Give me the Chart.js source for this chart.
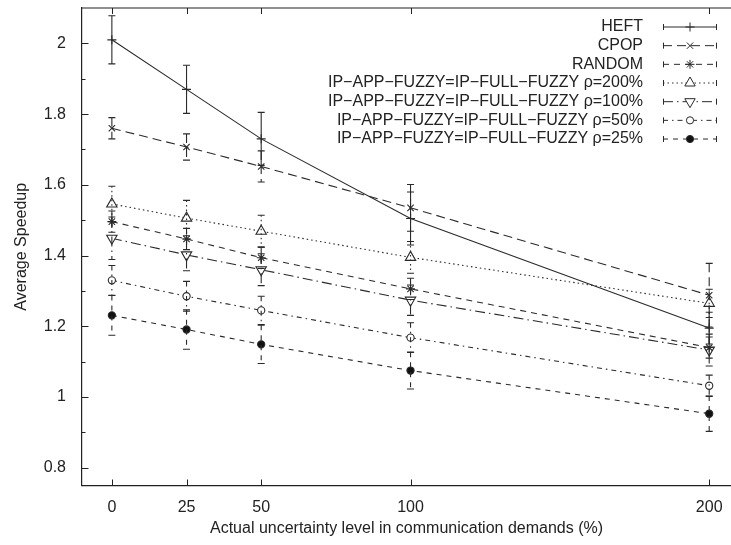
<!DOCTYPE html>
<html><head><meta charset="utf-8">
<script src="https://cdn.jsdelivr.net/npm/chart.js@4/dist/chart.umd.min.js"></script>
<style>html,body{margin:0;padding:0;background:#fff;overflow:hidden}#wrap{width:731px;height:545px;position:relative}</style>
</head><body><div id="wrap"><canvas id="c" width="731" height="545"></canvas></div>
<script>
const xValues = [0, 25, 50, 100, 200];
const xTickLabels = ['0', '25', '50', '100', '200'];
const yTickValues = [0.8, 0.9, 1.0, 1.1, 1.2, 1.3, 1.4, 1.5, 1.6, 1.7, 1.8, 1.9, 2.0];
const yTickLabels = ['0.8', '', '1', '', '1.2', '', '1.4', '', '1.6', '', '1.8', '', '2'];

const seriesNames = [
  'HEFT', 'CPOP', 'RANDOM',
  'IP\u2212APP\u2212FUZZY=IP\u2212FULL\u2212FUZZY \u03c1=200%',
  'IP\u2212APP\u2212FUZZY=IP\u2212FULL\u2212FUZZY \u03c1=100%',
  'IP\u2212APP\u2212FUZZY=IP\u2212FULL\u2212FUZZY \u03c1=50%',
  'IP\u2212APP\u2212FUZZY=IP\u2212FULL\u2212FUZZY \u03c1=25%'
];
const heft = [2.01, 1.87, 1.73, 1.505, 1.195];
const heftErr = [0.068, 0.068, 0.075, 0.075, 0.045];
const cpop = [1.76, 1.707, 1.652, 1.535, 1.288];
const cpopErr = [0.03, 0.037, 0.044, 0.066, 0.09];
const random = [1.496, 1.447, 1.394, 1.306, 1.14];
const randomErr = [0.03, 0.03, 0.03, 0.03, 0.03];
const fuzzy200 = [1.546, 1.506, 1.469, 1.395, 1.265];
const fuzzy200Err = [0.05, 0.05, 0.045, 0.045, 0.04];
const fuzzy100 = [1.449, 1.402, 1.36, 1.274, 1.133];
const fuzzy100Err = [0.06, 0.045, 0.045, 0.043, 0.045];
const fuzzy50 = [1.33, 1.285, 1.245, 1.168, 1.032];
const fuzzy50Err = [0.042, 0.042, 0.04, 0.042, 0.03];
const fuzzy25 = [1.231, 1.191, 1.149, 1.075, 0.953];
const fuzzy25Err = [0.056, 0.056, 0.054, 0.052, 0.05];

const FONT = 'Liberation Sans, Arial, Helvetica, sans-serif';
const INK = '#222';
const LINE = '#2a2a2a';

const styles = [
  {dash: [], point: 'cross', r: 4.5, rot: 0, fill: '#fff'},
  {dash: [9, 5], point: 'crossRot', r: 4.5, rot: 0, fill: '#fff'},
  {dash: [6, 5], point: 'star', r: 4.5, rot: 0, fill: '#fff'},
  {dash: [1.5, 3], point: 'triangle', r: 6, rot: 0, fill: '#fff'},
  {dash: [10, 4, 1.5, 4], point: 'triangle', r: 6, rot: 180, fill: '#fff'},
  {dash: [5, 4, 1.5, 4], point: 'circle', r: 3.6, rot: 0, fill: '#fff'},
  {dash: [5, 5], point: 'circle', r: 3.6, rot: 0, fill: '#111'}
];
const values = [heft, cpop, random, fuzzy200, fuzzy100, fuzzy50, fuzzy25];
const errors = [heftErr, cpopErr, randomErr, fuzzy200Err, fuzzy100Err, fuzzy50Err, fuzzy25Err];

const datasets = values.map((vals, i) => ({
  label: seriesNames[i],
  data: vals.map((v, j) => ({x: xValues[j], y: v})),
  borderColor: LINE,
  borderWidth: 1.1,
  borderDash: styles[i].dash,
  pointStyle: styles[i].point,
  pointRadius: styles[i].r,
  pointRotation: styles[i].rot,
  pointBackgroundColor: styles[i].fill,
  pointBorderColor: LINE,
  pointBorderWidth: 1.1,
  pointHoverRadius: styles[i].r,
  tension: 0,
  fill: false
}));

const errorBarPlugin = {
  id: 'errorBars',
  afterDatasetsDraw(chart) {
    const ctx = chart.ctx;
    const xs = chart.scales.x, ys = chart.scales.y;
    ctx.save();
    ctx.strokeStyle = LINE;
    ctx.lineWidth = 1.1;
    values.forEach((vals, i) => {
      vals.forEach((v, j) => {
        const x = xs.getPixelForValue(xValues[j]);
        const yt = ys.getPixelForValue(v + errors[i][j]);
        const yb = ys.getPixelForValue(v - errors[i][j]);
        ctx.setLineDash(styles[i].dash);
        ctx.beginPath(); ctx.moveTo(x, yt); ctx.lineTo(x, yb); ctx.stroke();
        ctx.setLineDash([]);
        ctx.beginPath();
        ctx.moveTo(x - 3.5, yt); ctx.lineTo(x + 3.5, yt);
        ctx.moveTo(x - 3.5, yb); ctx.lineTo(x + 3.5, yb);
        ctx.stroke();
      });
    });
    ctx.restore();
  }
};

const framePlugin = {
  id: 'frame',
  afterDraw(chart) {
    const ctx = chart.ctx;
    const a = chart.chartArea;
    const xs = chart.scales.x, ys = chart.scales.y;
    ctx.save();
    ctx.strokeStyle = INK;
    ctx.lineWidth = 1.2;
    ctx.setLineDash([]);
    ctx.beginPath();
    ctx.moveTo(a.left, a.top); ctx.lineTo(a.right, a.top);
    ctx.stroke();
    ctx.lineWidth = 1;
    ctx.beginPath();
    xValues.forEach(v => {
      const x = Math.round(xs.getPixelForValue(v)) + 0.5;
      ctx.moveTo(x, a.bottom); ctx.lineTo(x, a.bottom - 6);
      ctx.moveTo(x, a.top); ctx.lineTo(x, a.top + 6);
    });
    yTickValues.forEach((v, i) => {
      const y = Math.round(ys.getPixelForValue(v)) + 0.5;
      const len = yTickLabels[i] ? 6.5 : 3.5;
      ctx.moveTo(a.left, y); ctx.lineTo(a.left + len, y);
    });
    ctx.stroke();
    ctx.restore();
  }
};

const legendPlugin = {
  id: 'gnuLegend',
  afterDraw(chart) {
    const ctx = chart.ctx;
    ctx.save();
    ctx.font = '16px ' + FONT;
    ctx.textAlign = 'right';
    ctx.textBaseline = 'middle';
    const x0 = 663, x1 = 717, xt = 643;
    seriesNames.forEach((name, i) => {
      const y = 27 + i * 18.67;
      ctx.fillStyle = INK;
      ctx.fillText(name, xt, y);
      ctx.strokeStyle = LINE;
      ctx.lineWidth = 1;
      ctx.setLineDash(styles[i].dash);
      ctx.beginPath(); ctx.moveTo(x0, y); ctx.lineTo(x1, y); ctx.stroke();
      ctx.setLineDash([]);
      ctx.beginPath();
      ctx.moveTo(x0 + 0.5, y - 3); ctx.lineTo(x0 + 0.5, y + 3);
      ctx.moveTo(x1 - 0.5, y - 3); ctx.lineTo(x1 - 0.5, y + 3);
      ctx.stroke();
      ctx.fillStyle = styles[i].fill;
      ctx.strokeStyle = LINE;
      Chart.helpers.drawPoint(ctx, {pointStyle: styles[i].point, radius: styles[i].r, rotation: styles[i].rot, borderWidth: 1}, 690, y);
    });
    ctx.restore();
  }
};

new Chart(document.getElementById('c'), {
  type: 'line',
  data: {datasets},
  plugins: [errorBarPlugin, framePlugin, legendPlugin],
  options: {
    responsive: false,
    animation: false,
    devicePixelRatio: 1,
    layout: {autoPadding: false, padding: {top: 8, right: 0, left: 0, bottom: 0}},
    plugins: {legend: {display: false}, tooltip: {enabled: false}},
    scales: {
      x: {
        type: 'linear', min: -10, max: 207.3,
        afterBuildTicks: s => { s.ticks = xValues.map(v => ({value: v})); },
        afterFit: s => { s.height = 59.5; s.paddingLeft = 0; s.paddingRight = 0; },
        ticks: {
          callback: (v, i) => xTickLabels[i],
          font: {size: 16, family: FONT}, color: INK, padding: 12,
          maxRotation: 0, autoSkip: false
        },
        grid: {display: false, drawTicks: false},
        border: {display: true, color: INK, width: 1.2},
        title: {display: true, text: 'Actual uncertainty level in communication demands (%)',
          font: {size: 16, family: FONT}, color: INK, padding: {top: 0, bottom: 7}}
      },
      y: {
        type: 'linear', min: 0.75, max: 2.1,
        afterBuildTicks: s => { s.ticks = yTickValues.map(v => ({value: v})); },
        afterFit: s => { s.width = 82; s.paddingTop = 0; s.paddingBottom = 0; },
        ticks: {
          callback: (v, i) => yTickLabels[i],
          font: {size: 16, family: FONT}, color: INK, padding: 16, autoSkip: false
        },
        grid: {display: false, drawTicks: false},
        border: {display: true, color: INK, width: 1.2},
        title: {display: true, text: 'Average Speedup',
          font: {size: 16, family: FONT}, color: INK, padding: {top: 12, bottom: 0}}
      }
    }
  }
});
</script>
</body></html>
